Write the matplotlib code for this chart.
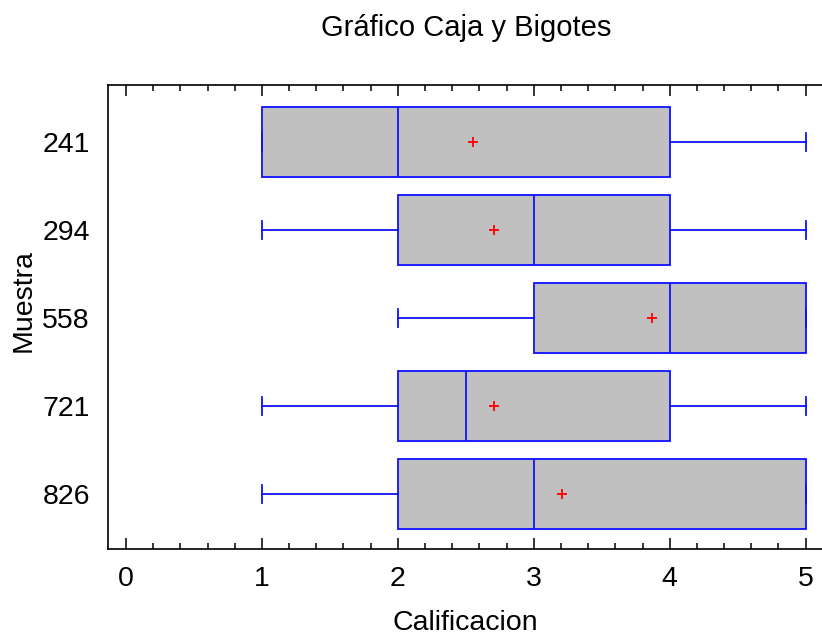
import matplotlib.pyplot as plt
from matplotlib.ticker import MultipleLocator

plt.rcParams['font.family'] = ['Liberation Sans', 'DejaVu Sans']

# summary values (Calificacion by Muestra)
muestras = ['241', '294', '558', '721', '826']
minimos = [1, 1, 2, 1, 1]
cuartil1 = [1, 2, 3, 2, 2]
medianas = [2, 3, 4, 2.5, 3]
cuartil3 = [4, 4, 5, 4, 5]
maximos = [5, 5, 5, 5, 5]
medias = [2.55, 2.71, 3.87, 2.71, 3.21]

stats = []
for i in range(len(muestras)):
    stats.append({'label': muestras[i], 'whislo': minimos[i], 'q1': cuartil1[i],
                  'med': medianas[i], 'q3': cuartil3[i], 'whishi': maximos[i],
                  'mean': medias[i], 'fliers': []})

fig = plt.figure(figsize=(8.22, 6.39), dpi=100)
ax = fig.add_axes([108/822, 90/639, 714/822, 464/639])

azul = '#0f0fff'
lw = 1.3
pos = list(range(1, len(muestras) + 1))
ax.bxp(stats, positions=pos, orientation='horizontal', widths=0.8,
       capwidths=0.2, showmeans=True, patch_artist=True,
       boxprops=dict(facecolor='#c0c0c0', edgecolor=azul, linewidth=lw),
       medianprops=dict(color=azul, linewidth=lw),
       whiskerprops=dict(color=azul, linewidth=lw),
       capprops=dict(color=azul, linewidth=lw),
       meanprops=dict(marker='+', markeredgecolor='red', markersize=7,
                      markeredgewidth=1.3))

ax.set_xlim(-0.132, 5.12)
ax.set_ylim(len(muestras) + 0.625, 1 - 0.65)
ax.set_yticks(pos)
ax.set_yticklabels(muestras)

ax.xaxis.set_major_locator(MultipleLocator(1))
ax.xaxis.set_minor_locator(MultipleLocator(0.2))
ax.tick_params(axis='x', which='major', direction='in', length=8, width=1.1,
               top=True, labelsize=20.5, pad=12)
ax.tick_params(axis='x', which='minor', direction='in', length=4, width=1.1,
               top=True)
ax.tick_params(axis='y', length=0, labelsize=20.5, pad=13)

ax.spines['right'].set_visible(False)
for s in ['left', 'top', 'bottom']:
    ax.spines[s].set_linewidth(1.2)

fig.text(465/822, 1 - 623/639, 'Calificacion', fontsize=20.5,
         ha='center', va='center')
fig.text(24/822, 1 - 301/639, 'Muestra', fontsize=20.5, rotation=90,
         ha='center', va='center')
fig.text(466/822, 1 - 28/639, 'Gráfico Caja y Bigotes', fontsize=21,
         ha='center', va='center')

fig.savefig('out.png', dpi=100)
